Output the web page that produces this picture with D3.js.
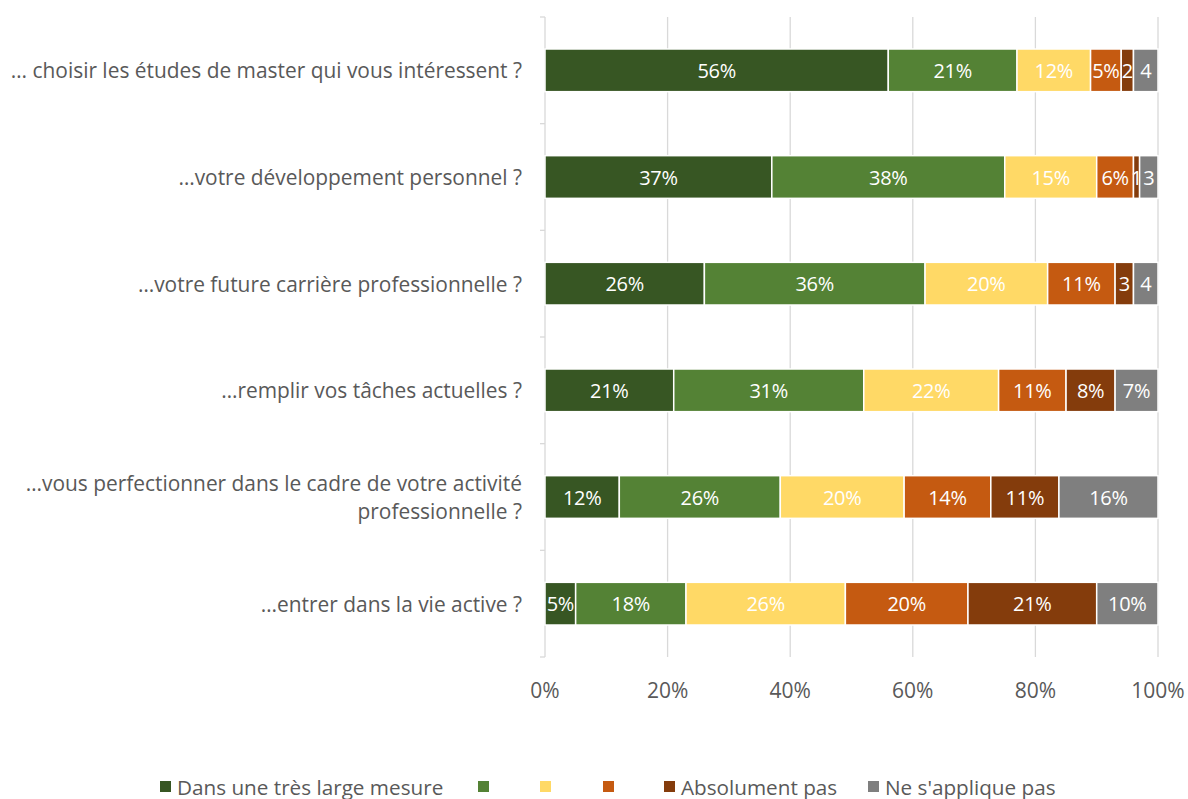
<!DOCTYPE html>
<html><head><meta charset="utf-8">
<script src="https://cdn.jsdelivr.net/npm/d3@7"></script>
<style>body{margin:0;background:#fff;} svg{font-family:"Open Sans",sans-serif;}</style>
</head><body>
<svg id="chart" width="1188" height="799"></svg>
<script>
const categories = [
  ["… choisir les études de master qui vous intéressent ?"],
  ["…votre développement personnel ?"],
  ["…votre future carrière professionnelle ?"],
  ["…remplir vos tâches actuelles ?"],
  ["…vous perfectionner dans le cadre de votre activité", "professionnelle ?"],
  ["…entrer dans la vie active ?"]
];
const seriesKeys = ["s1","s2","s3","s4","s5","s6"];
const legendLabels = ["Dans une très large mesure","","","","Absolument pas","Ne s'applique pas"];
const colors = ["#375623","#548235","#FFD966","#C55A11","#843C0C","#7F7F7F"];
const s1 = [56,37,26,21,12,5];
const s2 = [21,38,36,31,26,18];
const s3 = [12,15,20,22,20,26];
const s4 = [5,6,11,11,14,20];
const s5 = [2,1,3,8,11,21];
const s6 = [4,3,4,7,16,10];
const dataLabels = [
  ["56%","21%","12%","5%","2","4"],
  ["37%","38%","15%","6%","1","3"],
  ["26%","36%","20%","11%","3","4"],
  ["21%","31%","22%","11%","8%","7%"],
  ["12%","26%","20%","14%","11%","16%"],
  ["5%","18%","26%","20%","21%","10%"]
];
const xTicks = [0,0.2,0.4,0.6,0.8,1];

const svg = d3.select("#chart");
const pL = 545, pR = 1158, pT = 17, pB = 657;
const rows = categories.map((c,i)=>({i, s1:s1[i], s2:s2[i], s3:s3[i], s4:s4[i], s5:s5[i], s6:s6[i]}));
const stack = d3.stack().keys(seriesKeys).offset(d3.stackOffsetExpand);
const stacked = stack(rows);

const x = d3.scaleLinear().domain([0,1]).range([pL,pR]);
const y = d3.scaleBand().domain(d3.range(categories.length)).range([pT,pB]).paddingInner(0.6).paddingOuter(0.3);
const yb = d3.scaleBand().domain(d3.range(categories.length)).range([pT,pB]);

svg.append("g").selectAll("line").data(xTicks.slice(1)).join("line")
  .attr("x1",d=>x(d)).attr("x2",d=>x(d)).attr("y1",pT).attr("y2",pB)
  .attr("stroke","#d9d9d9").attr("stroke-width",1.3);

const ya = svg.append("g");
ya.append("line").attr("x1",pL).attr("x2",pL).attr("y1",pT).attr("y2",pB).attr("stroke","#d9d9d9").attr("stroke-width",1.3);
ya.selectAll("line.t").data(d3.range(categories.length+1)).join("line").attr("class","t")
  .attr("x1",pL-5).attr("x2",pL).attr("y1",d=>pT+d*yb.step()).attr("y2",d=>pT+d*yb.step())
  .attr("stroke","#d9d9d9").attr("stroke-width",1.3);

const g = svg.append("g");
stacked.forEach((layer,k)=>{
  g.append("g").selectAll("rect").data(layer).join("rect")
    .attr("x",d=>x(d[0])).attr("width",d=>x(d[1])-x(d[0]))
    .attr("y",(d,i)=>y(i)).attr("height",y.bandwidth())
    .attr("fill",colors[k]).attr("stroke","#fff").attr("stroke-width",1.5);
});
stacked.forEach((layer,k)=>{
  g.append("g").selectAll("text").data(layer).join("text")
    .attr("x",d=>(x(d[0])+x(d[1]))/2).attr("y",(d,i)=>y(i)+y.bandwidth()/2)
    .attr("text-anchor","middle").attr("dominant-baseline","central")
    .attr("fill","#fff").attr("font-size",20).attr("letter-spacing",-0.3)
    .text((d,i)=>dataLabels[i][k]);
});

const cl = svg.append("g");
categories.forEach((lines,i)=>{
  const cy = y(i)+y.bandwidth()/2;
  const lh = 28;
  lines.forEach((t,j)=>{
    cl.append("text").attr("x",522).attr("y",cy+(j-(lines.length-1)/2)*lh)
      .attr("text-anchor","end").attr("dominant-baseline","central")
      .attr("fill","#595959").attr("font-size",20.9).text(t);
  });
});

svg.append("g").selectAll("text").data(xTicks).join("text")
  .attr("x",d=>x(d)).attr("y",690).attr("text-anchor","middle").attr("dominant-baseline","central")
  .attr("fill","#595959").attr("font-size",21).text(d3.format(".0%"));

const legX = [160,478,540,603,664,868];
const lg = svg.append("g");
legendLabels.forEach((t,k)=>{
  lg.append("rect").attr("x",legX[k]).attr("y",781).attr("width",11).attr("height",11).attr("fill",colors[k]);
  lg.append("text").attr("x",legX[k]+17).attr("y",786.5).attr("dominant-baseline","central")
    .attr("fill","#595959").attr("font-size",20.7).text(t);
});
</script>
</body></html>
